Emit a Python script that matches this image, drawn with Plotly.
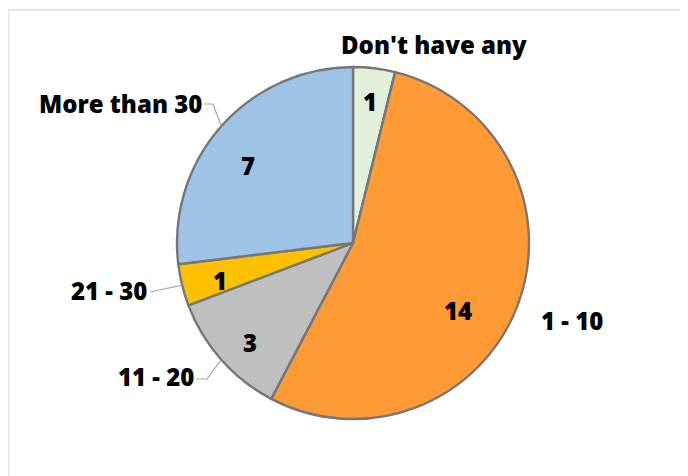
import math
import plotly.graph_objects as go

# ---- data ----
categories = ["Don't have any", "1 - 10", "11 - 20", "21 - 30", "More than 30"]
values = [1, 14, 3, 1, 7]
colors = ["#E2F0D9", "#FF9A35", "#BFBFBF", "#FFC000", "#9DC3E6"]

W, H = 688, 476
OFF = 8  # page body margin
# pie geometry in screen pixels (layout)
CX, CY, R = 353, 243, 176

def px(x):
    return (x - OFF) / W

def py(y):
    return 1 - (y - OFF) / H

fig = go.Figure()
fig.add_trace(go.Pie(
    labels=categories, values=values, sort=False, direction="clockwise", rotation=0,
    marker=dict(colors=colors, line=dict(color="#767676", width=2.4)),
    textinfo="none", hoverinfo="label+value", showlegend=False,
    domain=dict(x=[px(CX - R), px(CX + R)], y=[py(CY + R), py(CY - R)]),
))

total = sum(values)
mids = []
acc = 0
for v in values:
    mids.append((acc + v / 2) / total * 2 * math.pi)
    acc += v

def polar(theta, f):
    return CX + R * f * math.sin(theta), CY - R * f * math.cos(theta)

font = dict(family="Open Sans", size=24, color="#000000", weight=800)
annotations = []
# value label anchors inside slices (layout, screen pixels)
value_pos = [(370, 102), (458, 310), (250, 342), (220, 280), (248, 166)]
for v, (x, y) in zip(values, value_pos):
    annotations.append(dict(x=px(x), y=py(y), xref="paper", yref="paper", text=str(v),
                            showarrow=False, font=font, xanchor="center", yanchor="middle"))

# category label anchors (layout, screen pixels)
label_pos = [
    (434, 45, "center"),
    (572, 320, "center"),
    (196, 376, "right"),
    (149, 290, "right"),
    (204, 104, "right"),
]
for cat, (x, y, anc) in zip(categories, label_pos):
    annotations.append(dict(x=px(x), y=py(y), xref="paper", yref="paper", text=cat,
                            showarrow=False, font=font, xanchor=anc, yanchor="middle"))

shapes = [dict(type="rect", xref="paper", yref="paper", x0=px(8), x1=1.05, y0=-0.05, y1=py(10),
               line=dict(color="#D9D9D9", width=1.5), layer="below")]

lead = dict(color="#A6A6A6", width=1.2)
# leader lines for left-side labels: (slice index, elbow, start)
leaders = [(2, (207, 379), (196, 379)), (3, None, (150, 292)), (4, (213, 104), (204, 104))]
for idx, elbow, start in leaders:
    ex, ey = polar(mids[idx], 1.0)
    pts = [start] + ([elbow] if elbow else []) + [(ex, ey)]
    path = "M " + " L ".join(f"{px(a)},{py(b)}" for a, b in pts)
    shapes.append(dict(type="path", xref="paper", yref="paper", path=path, line=lead))

fig.update_layout(
    width=W, height=H, margin=dict(l=0, r=0, t=0, b=0),
    paper_bgcolor="white", plot_bgcolor="white",
    annotations=annotations, shapes=shapes,
)
fig.write_html("out.html")
